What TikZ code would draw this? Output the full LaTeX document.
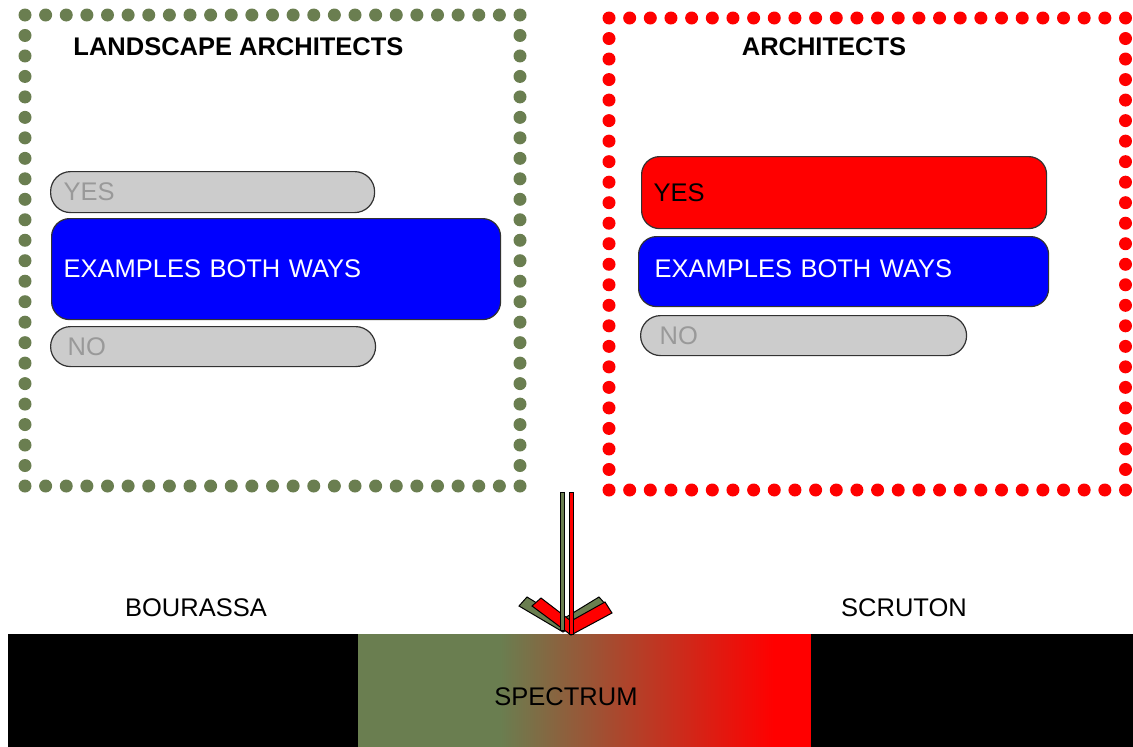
\documentclass[tikz,border=0pt]{standalone}
\usepackage{fontspec}
\setmainfont{Liberation Sans}
\definecolor{olivegreen}{RGB}{106,126,80}
\definecolor{pillgray}{RGB}{204,204,204}
\definecolor{pilltext}{RGB}{153,153,153}
\definecolor{boxline}{RGB}{50,50,50}
\begin{document}
\begin{tikzpicture}[x=1pt,y=-1pt,
  lbl/.style={font=\fontsize{25.5}{30}\selectfont},
  ttl/.style={font=\fontsize{25.5}{30}\selectfont\bfseries},
  card/.style={draw=boxline, line width=1.2pt, anchor=north west, align=left,
    inner ysep=0pt, font=\fontsize{25.5}{30}\selectfont},
  pill/.style={card, fill=pillgray, text=pilltext, rounded corners=20pt},
  bluecard/.style={card, fill=blue, text=white, rounded corners=18pt},
  redcard/.style={card, fill=red, text=black, rounded corners=18pt},
  headshape/.style={draw=black, line width=1pt},
  shaft/.style={draw=black, line width=0.9pt}]
\useasboundingbox (0,0) rectangle (1133,747);

% dotted frame of the landscape architects group
\foreach \i in {0,...,24}{
  \fill[olivegreen] ({25+\i*495/24},15) circle (6.5);
  \fill[olivegreen] ({25+\i*495/24},486) circle (6.5);
}
\foreach \j in {1,...,22}{
  \fill[olivegreen] (25,{15+\j*471/23}) circle (6.5);
  \fill[olivegreen] (520,{15+\j*471/23}) circle (6.5);
}
% dotted frame of the architects group
\foreach \i in {0,...,25}{
  \fill[red] ({609+\i*516.5/25},18) circle (6.5);
  \fill[red] ({609+\i*516.5/25},490) circle (6.5);
}
\foreach \j in {1,...,22}{
  \fill[red] (609,{18+\j*472/23}) circle (6.5);
  \fill[red] (1125.5,{18+\j*472/23}) circle (6.5);
}

% group titles
\node[ttl] (latitle) at (238.5,47) {LANDSCAPE ARCHITECTS};
\node[ttl] (artitle) at (824,47) {ARCHITECTS};

% answers of the landscape architects
\node[pill, minimum height=41pt, inner xsep=13pt, text width=298pt] (lyes) at (50,171) {YES};
\node[bluecard, minimum height=101pt, inner xsep=12pt, text width=425pt] (lboth) at (51,218) {EXAMPLES BOTH WAYS};
\node[pill, minimum height=40pt, inner xsep=17pt, text width=291pt] (lno) at (50,326) {NO};

% answers of the architects
\node[redcard, minimum height=72pt, inner xsep=12pt, text width=381pt] (ryes) at (641,156) {YES};
\node[bluecard, minimum height=70pt, inner xsep=16pt, text width=378pt, text depth=6pt] (rboth) at (638,236) {EXAMPLES BOTH WAYS};
\node[pill, minimum height=40pt, inner xsep=19pt, text width=288pt] (rno) at (640,315) {NO};

% spectrum bar
\fill[black] (8,634) rectangle (1133,747);
\fill[olivegreen] (358,634) rectangle (501,747);
\shade[left color=olivegreen, right color=red] (500,634) rectangle (774,747);
\fill[red] (773,634) rectangle (811,747);
\node[lbl] (spectrum) at (566,697) {SPECTRUM};
\node[lbl] (bourassa) at (196,608) {BOURASSA};
\node[lbl] (scruton) at (904,608) {SCRUTON};

% twin arrows pointing down onto the spectrum
\coordinate (arrowtop) at (567,492);
\filldraw[headshape, fill=olivegreen, shift={(563,632)}]
  (0,0) -- (-44,-26) -- (-36,-35) -- (0,-13) -- (36,-35) -- (44,-26) -- cycle;
\filldraw[headshape, fill=red, shift={(571,635)}]
  (0,0) -- (-39,-29) -- (-30,-37) -- (0,-14) -- (34,-33) -- (41,-22) -- cycle;
\filldraw[shaft, fill=olivegreen] ([xshift=-7pt]arrowtop) rectangle (564.5,630);
\filldraw[shaft, fill=red] ([xshift=2pt]arrowtop) rectangle (573.5,634);
\end{tikzpicture}
\end{document}
